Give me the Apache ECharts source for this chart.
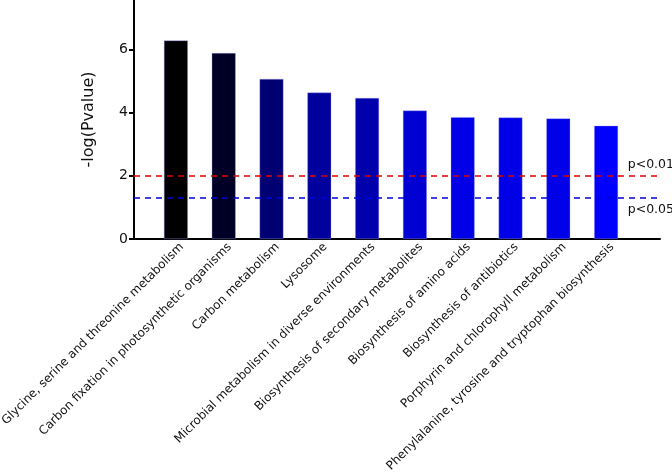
<!DOCTYPE html>
<html><head><meta charset="utf-8">
<script src="https://cdn.jsdelivr.net/npm/echarts@6/dist/echarts.min.js"></script>
<style>html,body{margin:0;padding:0;background:#fff}#c{width:672px;height:473px}</style>
</head><body><div id="c"></div>
<script>
const categories = [
  "Glycine, serine and threonine metabolism",
  "Carbon fixation in photosynthetic organisms",
  "Carbon metabolism",
  "Lysosome",
  "Microbial metabolism in diverse environments",
  "Biosynthesis of secondary metabolites",
  "Biosynthesis of amino acids",
  "Biosynthesis of antibiotics",
  "Porphyrin and chlorophyll metabolism",
  "Phenylalanine, tyrosine and tryptophan biosynthesis"
];
const values = [6.29, 5.89, 5.07, 4.64, 4.47, 4.07, 3.86, 3.85, 3.82, 3.59];
const yTicks = [0, 2, 4, 6];
const thresholds = [
  {value: 2, label: "p<0.01"},
  {value: 1.301, label: "p<0.05"}
];
const yMax = 7.57;
const font = "DejaVu Sans";

const chart = echarts.init(document.getElementById('c'), null, {renderer: 'canvas'});
chart.setOption({
  animation: false,
  backgroundColor: '#ffffff',
  textStyle: {fontFamily: font},
  grid: [
    {left: 134, top: 0, width: 526, height: 239, outerBoundsMode: 'none', containLabel: false},
    {left: 152, top: 0, width: 478, height: 239, outerBoundsMode: 'none', containLabel: false},
    {left: 158, top: 0, width: 478, height: 239, outerBoundsMode: 'none', containLabel: false}
  ],
  xAxis: [
    {gridIndex: 0, type: 'value', min: 0, max: 1,
     axisLine: {show: true, onZero: false, lineStyle: {color: '#000', width: 2}},
     axisTick: {show: false}, axisLabel: {show: false}, splitLine: {show: false}},
    {gridIndex: 1, type: 'category', data: categories, boundaryGap: true,
     axisLine: {show: false}, axisTick: {show: false}, splitLine: {show: false},
     axisLabel: {show: false}},
    {gridIndex: 2, type: 'category', data: categories, boundaryGap: true,
     axisLine: {show: false}, axisTick: {show: false}, splitLine: {show: false},
     axisLabel: {interval: 0, rotate: 45, margin: 6, color: '#111', fontSize: 12, fontFamily: font}}
  ],
  yAxis: [
    {gridIndex: 0, type: 'value', min: 0, max: yMax,
     name: '-log(Pvalue)', nameLocation: 'middle', nameGap: 37,
     nameTextStyle: {fontSize: 16, color: '#111', fontFamily: font},
     axisLine: {show: true, lineStyle: {color: '#000', width: 2}},
     axisTick: {show: true, customValues: yTicks, length: 5, lineStyle: {color: '#000', width: 2}},
     axisLabel: {customValues: yTicks, margin: 6, fontSize: 14, color: '#111', fontFamily: font},
     splitLine: {show: false}},
    {gridIndex: 1, type: 'value', min: 0, max: yMax, show: false, splitLine: {show: false}},
    {gridIndex: 2, type: 'value', min: 0, max: yMax, show: false, splitLine: {show: false}}
  ],
  visualMap: {
    show: false, type: 'continuous', seriesIndex: 0, dimension: 1,
    min: Math.min(...values), max: Math.max(...values),
    inRange: {color: ['#0000ff', '#000000']}
  },
  series: [
    {type: 'bar', xAxisIndex: 1, yAxisIndex: 1, data: values, barWidth: 24,
     itemStyle: {borderColor: 'rgba(160,160,255,0.6)', borderWidth: 0.6}},
    {type: 'line', xAxisIndex: 0, yAxisIndex: 0, data: [], silent: true,
     markLine: {
       symbol: ['none', 'none'], silent: true,
       data: thresholds.map((t, i) => ({
         yAxis: t.value,
         lineStyle: {color: i === 0 ? '#e00000' : '#0000dd', type: [6, 5], width: 1.5},
         label: {show: true, formatter: t.label,
                 position: i === 0 ? 'insideEndTop' : 'insideEndBottom',
                 offset: [19, 0], fontSize: 12.5, color: '#111', fontFamily: font}
       }))
     }}
  ]
});
</script></body></html>
